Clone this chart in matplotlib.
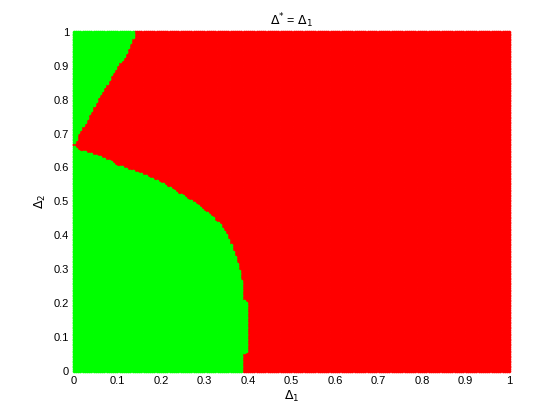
import numpy as np
import matplotlib
matplotlib.use('Agg')
import matplotlib.pyplot as plt

plt.rcParams['font.family'] = ['Liberation Sans', 'DejaVu Sans']

# grid of (Delta1, Delta2) values, step 0.005
delta_vals = np.round(np.arange(0, 1.0001, 0.005), 3)

# lower green region: right edge (Delta1) for each Delta2
low_d2 = [0.00, 0.05, 0.06, 0.20, 0.21, 0.27, 0.31, 0.35, 0.39, 0.43, 0.47,
          0.49, 0.51, 0.54, 0.57, 0.59, 0.605, 0.625, 0.64, 0.65, 0.665]
low_d1 = [0.39, 0.39, 0.40, 0.40, 0.39, 0.385, 0.378, 0.366, 0.355, 0.336, 0.305,
          0.282, 0.259, 0.221, 0.175, 0.136, 0.098, 0.075, 0.044, 0.014, 0.0]

# upper green wedge: right edge (Delta1) for each Delta2
up_d2 = [0.67, 0.70, 0.74, 0.79, 0.84, 0.89, 0.94, 1.00]
up_d1 = [0.0, 0.010, 0.029, 0.048, 0.071, 0.094, 0.121, 0.14]

d1, d2 = np.meshgrid(delta_vals, delta_vals)
edge_low = np.interp(d2, low_d2, low_d1)
edge_up = np.interp(d2, up_d2, up_d1)
green = np.where(d2 <= 0.665, d1 < edge_low, d1 < edge_up)

fig = plt.figure(figsize=(5.6, 4.2), dpi=100)
ax = fig.add_axes([0.132, 0.117, 0.777, 0.807])

ax.scatter(d1[~green], d2[~green], s=7, marker='o', color='#ff0000',
           linewidths=0, clip_on=False, zorder=3)
ax.scatter(d1[green], d2[green], s=7, marker='o', color='#00ff00',
           linewidths=0, clip_on=False, zorder=3)

ax.set_xlim(0, 1)
ax.set_ylim(0, 1)
ticks = np.round(np.arange(0, 1.01, 0.1), 1)
labels = ['0' if t == 0 else ('1' if t == 1 else str(t)) for t in ticks]
ax.set_xticks(ticks)
ax.set_xticklabels(labels)
ax.set_yticks(ticks)
ax.set_yticklabels(labels)
ax.tick_params(direction='in', length=4, labelsize=8, width=0.6)
for sp in ax.spines.values():
    sp.set_linewidth(0.6)

ax.set_xlabel(r'$\Delta_1$', fontsize=9, labelpad=2)
ax.set_ylabel(r'$\Delta_2$', fontsize=9, labelpad=4)
ax.set_title(r'$\Delta^{*}$ = $\Delta_1$', fontsize=9, pad=5)

fig.savefig('out.png', dpi=100)
